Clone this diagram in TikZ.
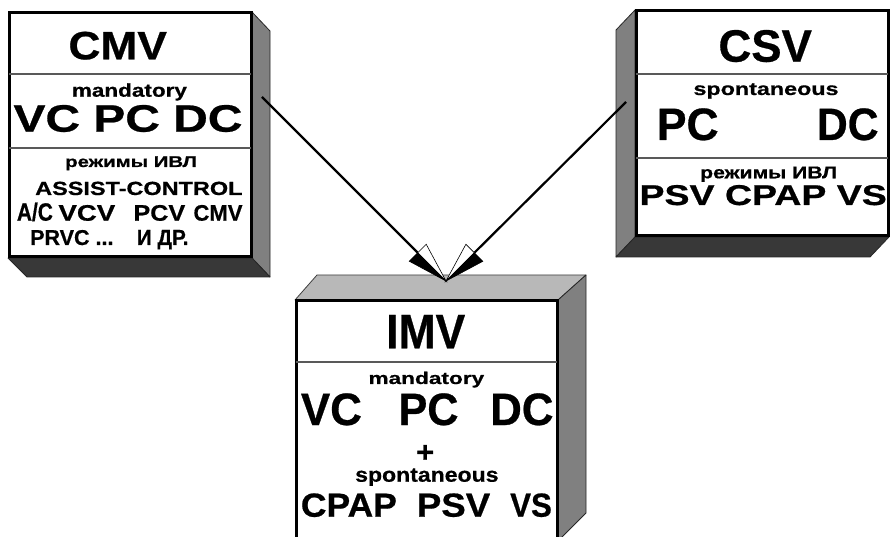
\documentclass[tikz,border=0pt]{standalone}
\usepackage{fontspec}
\setmainfont{Liberation Sans}[BoldFeatures={FakeBold=0.6}]
\usepackage{graphicx}
\usetikzlibrary{calc}
\newcommand\fitt[3]{\resizebox{#1pt}{#2pt}{\bfseries #3}}
\begin{document}
\begin{tikzpicture}[x=1pt,y=-1pt,
  front/.style={draw=black, line width=3pt, fill=white},
  divl/.style={draw=black!65, line width=1.2pt},
  sideface/.style={fill=black!50, draw=black!85, line width=0.8pt, line join=round},
  darkface/.style={fill=black!78, draw=black!85, line width=0.8pt, line join=round},
  lightface/.style={fill=black!28, draw=black!75, line width=0.8pt, line join=round},
  txt/.style={inner sep=0pt, anchor=base west},
  shaft/.style={line width=2.2pt, draw=black},
  headblack/.style={fill=black, draw=black, line width=0.6pt, line join=miter},
  headwhite/.style={fill=white, draw=black, line width=0.6pt, line join=miter}
]
\useasboundingbox (0,0) rectangle (892,537);
\clip (0,0) rectangle (892,537);

% ---------- CMV box ----------
\draw[sideface] (252,12) -- (270,31) -- (270,277) -- (252,258) -- cycle;
\draw[darkface] (8,258) -- (252,258) -- (270,277) -- (27,277) -- cycle;
\draw[front] (9,13) rectangle (251,257);
\draw[divl] (9,74) -- (251,74);
\draw[divl] (9,148) -- (251,148);

% ---------- CSV box ----------
\draw[sideface] (635,10) -- (616,30) -- (616,257) -- (635,237) -- cycle;
\draw[darkface] (635,237) -- (889,237) -- (870,257) -- (616,257) -- cycle;
\draw[front] (636,11) rectangle (888,236);
\draw[divl] (636,74) -- (888,74);
\draw[divl] (636,158) -- (888,158);

% ---------- IMV box ----------
\draw[lightface] (295,300) -- (317,275) -- (586,275) -- (558,300) -- cycle;
\draw[sideface] (558,300) -- (586,275) -- (586,513) -- (558,541) -- cycle;
\draw[front] (296,301) rectangle (557,548);
\draw[divl] (296,362) -- (557,362);

% ---------- arrows ----------
\coordinate (ls) at (262,97);
\coordinate (rs) at (626,102);
\coordinate (tip) at (446,281);
\coordinate (lm) at ($(tip)!40pt!(ls)$);
\coordinate (lw) at ($(lm)!12pt!90:(tip)$);
\coordinate (lb) at ($(lm)!12pt!-90:(tip)$);
\coordinate (rm) at ($(tip)!40pt!(rs)$);
\coordinate (rb) at ($(rm)!12pt!90:(tip)$);
\coordinate (rw) at ($(rm)!12pt!-90:(tip)$);
\draw[shaft] (ls) -- (lm);
\draw[shaft] (rs) -- (rm);
\draw[headwhite] (tip) -- (lm) -- (lw) -- cycle;
\draw[headblack] (tip) -- (lb) -- (lm) -- cycle;
\draw[headwhite] (tip) -- (rm) -- (rw) -- cycle;
\draw[headblack] (tip) -- (rb) -- (rm) -- cycle;

% ---------- CMV texts ----------
\node[txt] (cmvT) at (68.3,59.3) {\fitt{98.4}{27.6}{CMV}};
\node[txt] (cmvM) at (71.7,96.7) {\fitt{115}{13.4}{mandatory}};
\node[txt] (cmvV) at (13.3,131.7) {\fitt{229}{26.7}{VC PC DC}};
\node[txt] (cmvR) at (65,167) {\fitt{131.7}{10.7}{режимы ИВЛ}};
\node[txt] (cmvA) at (35,195) {\fitt{207.3}{13.3}{ASSIST-CONTROL}};
\node[txt] (cmvB1) at (16.7,220.7) {\fitt{36}{17.5}{A\smash{/}C}};
\node[txt] (cmvB2) at (58.3,220.7) {\fitt{56.7}{15.7}{VCV}};
\node[txt] (cmvB3) at (133.3,220.7) {\fitt{51.7}{15.7}{PCV}};
\node[txt] (cmvB4) at (193.3,220.7) {\fitt{49}{15.7}{CMV}};
\node[txt] (cmvC) at (30,245) {\fitt{83.3}{15}{PRVC ...}};
\node[txt] (cmvD) at (136.7,245) {\fitt{51.6}{15}{И ДР.}};

% ---------- CSV texts ----------
\node[txt] (csvT) at (718.3,61.7) {\fitt{93.4}{31.7}{CSV}};
\node[txt] (csvS) at (693.3,95) {\fitt{145}{11.7}{spontaneous}};
\node[txt] (csvP) at (656.7,140) {\fitt{61.7}{31.7}{PC}};
\node[txt] (csvD) at (816.7,140) {\fitt{61.7}{31.7}{DC}};
\node[txt] (csvR) at (700,178.3) {\fitt{136.7}{11.7}{режимы ИВЛ}};
\node[txt] (csvM) at (639.3,205) {\fitt{247.3}{20}{PSV CPAP VS}};

% ---------- IMV texts ----------
\node[txt] (imvT) at (386,348.3) {\fitt{79}{33.3}{IMV}};
\node[txt] (imvM) at (368.3,384) {\fitt{115.7}{12.3}{mandatory}};
\node[txt] (imvV) at (300.7,425) {\fitt{61}{31.7}{VC}};
\node[txt] (imvP) at (398.3,425) {\fitt{60}{31.7}{PC}};
\node[txt] (imvD) at (490,425) {\fitt{63.3}{31.7}{DC}};
\node[txt] (imvPlus) at (416,462) {\fitt{18}{17}{+}};
\node[txt] (imvS) at (355,481.7) {\fitt{143.3}{13.3}{spontaneous}};
\node[txt] (imvC1) at (300.7,516.7) {\fitt{96}{23.3}{CPAP}};
\node[txt] (imvC2) at (416.7,516.7) {\fitt{73.3}{23.3}{PSV}};
\node[txt] (imvC3) at (510,516.7) {\fitt{41.7}{23.3}{VS}};
\end{tikzpicture}
\end{document}
